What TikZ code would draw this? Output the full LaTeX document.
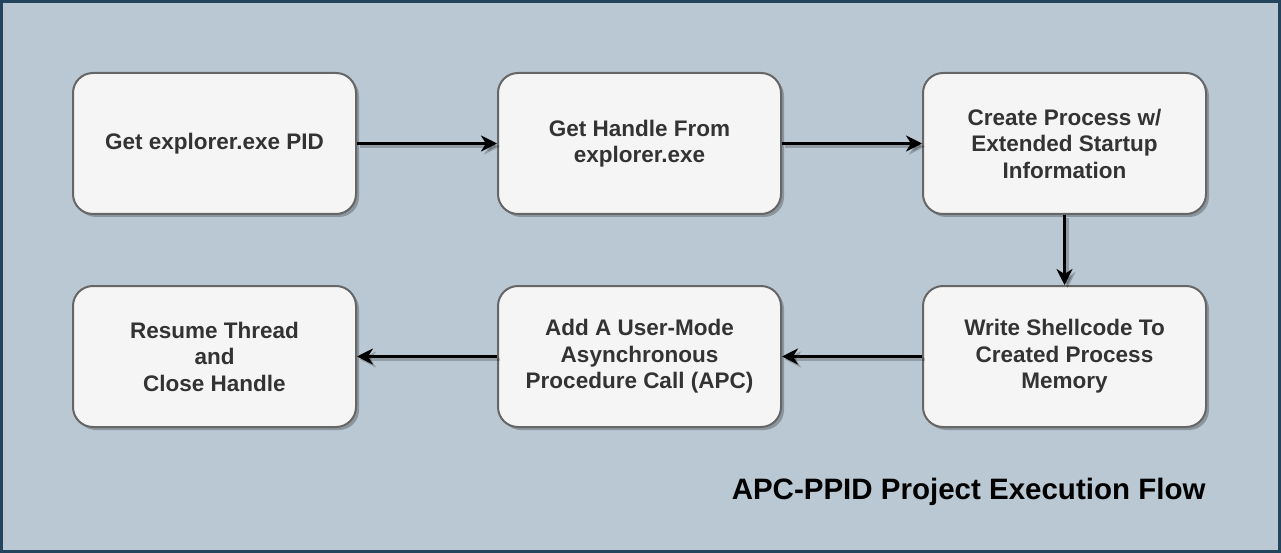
\documentclass[tikz,border=0pt]{standalone}
\usepackage{fontspec}
\setmainfont{Liberation Sans}
\usetikzlibrary{arrows.meta,shadows}
\definecolor{bgc}{HTML}{BAC8D3}
\definecolor{frc}{HTML}{23445D}
\definecolor{boxf}{HTML}{F5F5F5}
\definecolor{boxd}{HTML}{666666}
\definecolor{txt}{HTML}{333333}
\begin{document}
\begin{tikzpicture}[x=1pt,y=-1pt,
  stepbox/.style={draw=boxd,line width=2pt,fill=boxf,rounded corners=20pt,
    minimum width=283pt,minimum height=141pt,align=center,text=txt,
    font=\fontsize{22.5}{26.5}\selectfont\bfseries,
    drop shadow={shadow xshift=3pt,shadow yshift=-3pt,fill=black,opacity=0.25}},
  flow/.style={line width=3pt,draw=black,-{Stealth[length=16pt,width=16pt,inset=5pt]},
    preaction={draw=black,opacity=0.22,line width=3pt,transform canvas={xshift=3pt,yshift=-3pt}}}]
\fill[bgc] (0,0) rectangle (1281,553);
\draw[frc,line width=3pt] (1.5,1.5) rectangle (1279.5,551.5);
\useasboundingbox (0,0) rectangle (1281,553);
\node[stepbox] (a) at (214.5,143.5) {Get explorer.exe PID};
\node[stepbox] (b) at (639.5,143.5) {Get Handle From\\explorer.exe};
\node[stepbox] (c) at (1064.5,143.5) {Create Process w/\\Extended Startup\\Information};
\node[stepbox] (d) at (1064.5,356.5) {Write Shellcode To\\Created Process\\Memory};
\node[stepbox] (e) at (639.5,356.5) {Add A User-Mode\\Asynchronous\\Procedure Call (APC)};
\node[stepbox] (f) at (214.5,356.5) {Resume Thread\\and\\Close Handle};
\node[font=\fontsize{29.5}{34}\selectfont\bfseries,text=black,anchor=east] (t) at (1209,492) {APC-PPID Project Execution Flow};
\draw[flow] (a.east) -- (b.west);
\draw[flow] (b.east) -- (c.west);
\draw[flow] (c.south) -- (d.north);
\draw[flow] (d.west) -- (e.east);
\draw[flow] (e.west) -- (f.east);
\end{tikzpicture}
\end{document}
